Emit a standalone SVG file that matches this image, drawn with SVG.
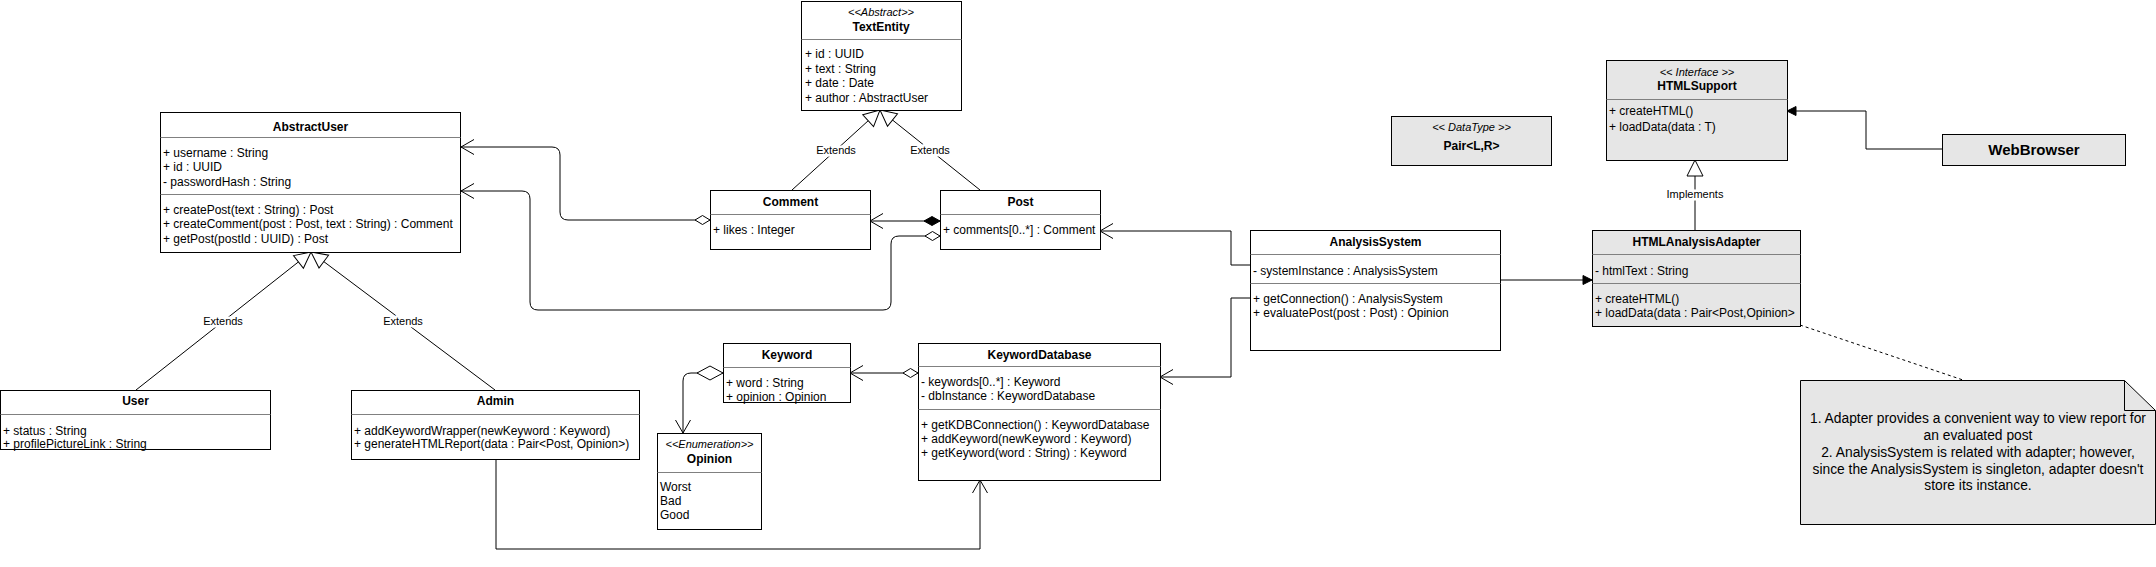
<svg xmlns="http://www.w3.org/2000/svg" width="2156" height="567" viewBox="0 0 2156 567">
<style>
text{font-family:"Liberation Sans",Arial,sans-serif;font-size:12px;fill:#000}
.t{font-weight:bold;text-anchor:middle}
.s{font-style:italic;font-size:11px;text-anchor:middle}
.box{fill:#fff;stroke:#000;stroke-width:1}
.gbox{fill:#e6e6e6;stroke:#000;stroke-width:1}
.div{stroke:#808080;stroke-width:1}
.ln{fill:none;stroke:#000;stroke-width:1}
.lbl{font-size:11px;text-anchor:middle;paint-order:stroke;stroke:#fff;stroke-width:5px;stroke-linejoin:round}
.note{font-size:13.8px;text-anchor:middle}
</style>
<defs>
<marker id="open" markerUnits="userSpaceOnUse" viewBox="-15 -9 17 18" markerWidth="17" markerHeight="18" refX="0" refY="0" orient="auto" overflow="visible"><path d="M-13,-7.5 L0,0 L-13,7.5" fill="none" stroke="#000"/></marker>
<marker id="tri" markerUnits="userSpaceOnUse" viewBox="-18 -10 20 20" markerWidth="20" markerHeight="20" refX="0" refY="0" orient="auto" overflow="visible"><path d="M-16,-8 L0,0 L-16,8 Z" fill="#fff" stroke="#000"/></marker>
<marker id="block" markerUnits="userSpaceOnUse" viewBox="-12 -7 14 14" markerWidth="14" markerHeight="14" refX="0" refY="0" orient="auto" overflow="visible"><path d="M-9,-4.5 L0,0 L-9,4.5 Z" fill="#000" stroke="#000"/></marker>
<marker id="dia" markerUnits="userSpaceOnUse" viewBox="-1 -6 18 12" markerWidth="18" markerHeight="12" refX="0" refY="0" orient="auto" overflow="visible"><path d="M0,0 L7.5,-4.5 L15,0 L7.5,4.5 Z" fill="#fff" stroke="#000"/></marker>
<marker id="fdia" markerUnits="userSpaceOnUse" viewBox="-1 -6 18 12" markerWidth="18" markerHeight="12" refX="0" refY="0" orient="auto" overflow="visible"><path d="M0,0 L8,-4.5 L16,0 L8,4.5 Z" fill="#000" stroke="#000"/></marker>
<marker id="bdia" markerUnits="userSpaceOnUse" viewBox="-1 -9 30 18" markerWidth="30" markerHeight="18" refX="0" refY="0" orient="auto" overflow="visible"><path d="M0,0 L13,-7 L26,0 L13,7 Z" fill="#fff" stroke="#000"/></marker>
</defs>

<g id="connectors">
<path class="ln" d="M710,220 H568 Q560,220 560,212 V155 Q560,147 552,147 H461" marker-start="url(#dia)" marker-end="url(#open)"/>
<path class="ln" d="M940,236 H899 Q891,236 891,244 V302 Q891,310 883,310 H538 Q530,310 530,302 V199 Q530,191 522,191 H461" marker-start="url(#dia)" marker-end="url(#open)"/>
<path class="ln" d="M940,221 H870" marker-start="url(#fdia)" marker-end="url(#open)"/>
<path class="ln" d="M792,190 L880,110" marker-end="url(#tri)"/>
<path class="ln" d="M980,190 L880,110" marker-end="url(#tri)"/>
<path class="ln" d="M136,390 L311,252" marker-end="url(#tri)"/>
<path class="ln" d="M495,390 L311,252" marker-end="url(#tri)"/>
<path class="ln" d="M1250,265 H1231 V231 H1100" marker-end="url(#open)"/>
<path class="ln" d="M1250,298 H1231 V377 H1160" marker-end="url(#open)"/>
<path class="ln" d="M1500,280 H1592" marker-end="url(#block)"/>
<path class="ln" d="M1695,230 V160" marker-end="url(#tri)"/>
<path class="ln" d="M1942,149 H1866 V111 H1787" marker-end="url(#block)"/>
<path class="ln" d="M918,373 H850" marker-start="url(#dia)" marker-end="url(#open)"/>
<path class="ln" d="M723,373 H691 Q683,373 683,381 V433" marker-start="url(#bdia)" marker-end="url(#open)"/>
<path class="ln" d="M496,459 V549 H980 V480" marker-end="url(#open)"/>
<path class="ln" d="M1800,325 L1963,380" stroke-dasharray="3 3"/>
<text class="lbl" x="836" y="154">Extends</text>
<text class="lbl" x="930" y="154">Extends</text>
<text class="lbl" x="223" y="325">Extends</text>
<text class="lbl" x="403" y="325">Extends</text>
<text class="lbl" x="1695" y="198">Implements</text>
</g>

<g id="TextEntity">
<rect class="box" x="801.5" y="1.5" width="160" height="109"/>
<text class="s" x="881" y="16">&lt;&lt;Abstract&gt;&gt;</text>
<text class="t" x="881" y="31">TextEntity</text>
<line class="div" x1="801.5" y1="39.5" x2="961.5" y2="39.5"/>
<text x="805" y="58">+ id : UUID</text>
<text x="805" y="72.5">+ text : String</text>
<text x="805" y="87">+ date : Date</text>
<text x="805" y="101.5">+ author : AbstractUser</text>
</g>

<g id="AbstractUser">
<rect class="box" x="160.5" y="112.5" width="300" height="140"/>
<text class="t" x="310.5" y="130.5">AbstractUser</text>
<line class="div" x1="160.5" y1="137.5" x2="460.5" y2="137.5"/>
<text x="163" y="156.5">+ username : String</text>
<text x="163" y="171">+ id : UUID</text>
<text x="163" y="185.5">- passwordHash : String</text>
<line class="div" x1="160.5" y1="194.5" x2="460.5" y2="194.5"/>
<text x="163" y="213.5">+ createPost(text : String) : Post</text>
<text x="163" y="228">+ createComment(post : Post, text : String) : Comment</text>
<text x="163" y="242.5">+ getPost(postId : UUID) : Post</text>
</g>

<g id="Comment">
<rect class="box" x="710.5" y="190.5" width="160" height="59"/>
<text class="t" x="790.5" y="205.5">Comment</text>
<line class="div" x1="710.5" y1="214.5" x2="870.5" y2="214.5"/>
<text x="713" y="234">+ likes : Integer</text>
</g>

<g id="Post">
<rect class="box" x="940.5" y="190.5" width="160" height="59"/>
<text class="t" x="1020.5" y="205.5">Post</text>
<line class="div" x1="940.5" y1="214.5" x2="1100.5" y2="214.5"/>
<text x="943" y="234">+ comments[0..*] : Comment</text>
</g>

<g id="User">
<rect class="box" x="0.5" y="390.5" width="270" height="59"/>
<text class="t" x="135.5" y="405">User</text>
<line class="div" x1="0.5" y1="414.5" x2="270.5" y2="414.5"/>
<text x="3" y="434.5">+ status : String</text>
<text x="3" y="448">+ profilePictureLink : String</text>
</g>

<g id="Admin">
<rect class="box" x="351.5" y="390.5" width="288" height="69"/>
<text class="t" x="495.5" y="405">Admin</text>
<line class="div" x1="351.5" y1="414.5" x2="639.5" y2="414.5"/>
<text x="354" y="434.5">+ addKeywordWrapper(newKeyword : Keyword)</text>
<text x="354" y="448">+ generateHTMLReport(data : Pair&lt;Post, Opinion&gt;)</text>
</g>

<g id="Keyword">
<rect class="box" x="723.5" y="343.5" width="127" height="59"/>
<text class="t" x="787" y="359">Keyword</text>
<line class="div" x1="723.5" y1="367.5" x2="850.5" y2="367.5"/>
<text x="726" y="387">+ word : String</text>
<text x="726" y="401">+ opinion : Opinion</text>
</g>

<g id="Opinion">
<rect class="box" x="657.5" y="433.5" width="104" height="96"/>
<text class="s" x="709.5" y="447.5">&lt;&lt;Enumeration&gt;&gt;</text>
<text class="t" x="709.5" y="462.5">Opinion</text>
<line class="div" x1="657.5" y1="472.5" x2="761.5" y2="472.5"/>
<text x="660" y="491">Worst</text>
<text x="660" y="505">Bad</text>
<text x="660" y="519">Good</text>
</g>

<g id="KeywordDatabase">
<rect class="box" x="918.5" y="343.5" width="242" height="137"/>
<text class="t" x="1039.5" y="359">KeywordDatabase</text>
<line class="div" x1="918.5" y1="366.5" x2="1160.5" y2="366.5"/>
<text x="921" y="386">- keywords[0..*] : Keyword</text>
<text x="921" y="400">- dbInstance : KeywordDatabase</text>
<line class="div" x1="918.5" y1="409.5" x2="1160.5" y2="409.5"/>
<text x="921" y="428.5">+ getKDBConnection() : KeywordDatabase</text>
<text x="921" y="443">+ addKeyword(newKeyword : Keyword)</text>
<text x="921" y="457">+ getKeyword(word : String) : Keyword</text>
</g>

<g id="AnalysisSystem">
<rect class="box" x="1250.5" y="230.5" width="250" height="120"/>
<text class="t" x="1375.5" y="246">AnalysisSystem</text>
<line class="div" x1="1250.5" y1="254.5" x2="1500.5" y2="254.5"/>
<text x="1253" y="275">- systemInstance : AnalysisSystem</text>
<line class="div" x1="1250.5" y1="283.5" x2="1500.5" y2="283.5"/>
<text x="1253" y="302.5">+ getConnection() : AnalysisSystem</text>
<text x="1253" y="316.5">+ evaluatePost(post : Post) : Opinion</text>
</g>

<g id="HTMLAnalysisAdapter">
<rect class="gbox" x="1592.5" y="230.5" width="208" height="96"/>
<text class="t" x="1696.5" y="246">HTMLAnalysisAdapter</text>
<line class="div" x1="1592.5" y1="254.5" x2="1800.5" y2="254.5"/>
<text x="1595" y="275">- htmlText : String</text>
<line class="div" x1="1592.5" y1="283.5" x2="1800.5" y2="283.5"/>
<text x="1595" y="302.5">+ createHTML()</text>
<text x="1595" y="316.5">+ loadData(data : Pair&lt;Post,Opinion&gt;</text>
</g>

<g id="Pair">
<rect class="gbox" x="1391.5" y="116.5" width="160" height="49"/>
<text class="s" x="1471.5" y="131">&lt;&lt; DataType &gt;&gt;</text>
<text class="t" x="1471.5" y="150">Pair&lt;L,R&gt;</text>
</g>

<g id="HTMLSupport">
<rect class="gbox" x="1606.5" y="60.5" width="181" height="100"/>
<text class="s" x="1697" y="76">&lt;&lt; Interface &gt;&gt;</text>
<text class="t" x="1697" y="90">HTMLSupport</text>
<line class="div" x1="1606.5" y1="99.5" x2="1787.5" y2="99.5"/>
<text x="1609" y="115">+ createHTML()</text>
<text x="1609" y="131">+ loadData(data : T)</text>
</g>

<g id="WebBrowser">
<rect class="gbox" x="1942.5" y="134.5" width="183" height="31"/>
<text class="t" x="2034" y="155" style="font-size:15px">WebBrowser</text>
</g>

<g id="Note">
<path d="M1800.5,380.5 H2124.5 L2155.5,410.5 V524.5 H1800.5 Z" fill="#e6e6e6" stroke="#000"/>
<path d="M2124.5,380.5 V410.5 H2155.5" fill="none" stroke="#000"/>
<text class="note" x="1978" y="423">1. Adapter provides a convenient way to view report for</text>
<text class="note" x="1978" y="440">an evaluated post</text>
<text class="note" x="1978" y="457">2. AnalysisSystem is related with adapter; however,</text>
<text class="note" x="1978" y="473.5">since the AnalysisSystem is singleton, adapter doesn't</text>
<text class="note" x="1978" y="490">store its instance.</text>
</g>
</svg>
